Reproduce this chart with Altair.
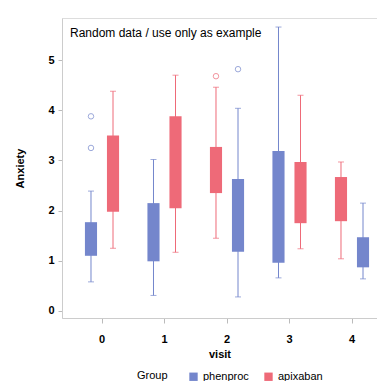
import altair as alt
import pandas as pd

visits = ["0", "0", "1", "1", "2", "2", "3", "3", "4", "4"]
groups = ["phenproc", "apixaban", "phenproc", "apixaban", "apixaban",
          "phenproc", "phenproc", "apixaban", "apixaban", "phenproc"]
sides = ["L", "R", "L", "R", "L", "R", "L", "R", "L", "R"]
lower = [0.58, 1.25, 0.31, 1.17, 1.45, 0.28, 0.66, 1.24, 1.04, 0.64]
q1 = [1.10, 1.98, 0.99, 2.05, 2.35, 1.18, 0.96, 1.75, 1.79, 0.87]
q3 = [1.77, 3.50, 2.15, 3.88, 3.27, 2.63, 3.19, 2.97, 2.67, 1.47]
upper = [2.39, 4.38, 3.02, 4.70, 4.46, 4.04, 5.66, 4.30, 2.97, 2.15]

out_visit = ["0", "0", "2", "2"]
out_group = ["phenproc", "phenproc", "apixaban", "phenproc"]
out_side = ["L", "L", "L", "R"]
out_value = [3.88, 3.25, 4.68, 4.82]

group_order = ["phenproc", "apixaban"]
colors = ["#7486cc", "#ee6a78"]

df = pd.DataFrame({"visit": visits, "Group": groups, "side": sides,
                   "lower": lower, "q1": q1, "q3": q3, "upper": upper})
dfo = pd.DataFrame({"visit": out_visit, "Group": out_group,
                    "side": out_side, "value": out_value})

xenc = alt.X("visit:N", sort=["0", "1", "2", "3", "4"], title="visit",
             scale=alt.Scale(paddingInner=0.2, paddingOuter=0.12, align=1),
             axis=alt.Axis(labelAngle=0, labelFontSize=11, labelFontWeight="bold",
                           titleFontSize=11, titleFontWeight="bold",
                           labelPadding=10, titlePadding=4, tickSize=5,
                           domainColor="#cccccc", tickColor="#bbbbbb",
                           labelColor="#000000", titleColor="#000000"))
xoff = alt.XOffset("side:N", scale=alt.Scale(domain=["L", "R"], paddingInner=0.45,
                                             paddingOuter=0.36))
yscale = alt.Scale(domain=[-0.14, 5.84], nice=False, zero=False)
yaxis = alt.Axis(values=[0, 1, 2, 3, 4, 5], grid=False, labelFontSize=11,
                 labelFontWeight="bold", titleFontSize=11, titleFontWeight="bold",
                 titlePadding=22, tickSize=4, labelPadding=4,
                 domainColor="#cccccc", tickColor="#bbbbbb",
                 labelColor="#000000", titleColor="#000000")
cscale = alt.Scale(domain=group_order, range=colors)

grp_color = alt.condition(alt.datum.Group == group_order[0],
                          alt.value(colors[0]), alt.value(colors[1]))

base = alt.Chart(df)

boxes = base.mark_bar(opacity=1).encode(
    x=xenc, xOffset=xoff,
    y=alt.Y("q1:Q", scale=yscale, axis=yaxis, title="Anxiety"), y2="q3:Q",
    color=alt.Color("Group:N", scale=cscale,
                    legend=alt.Legend(title="Group", orient="none", legendX=75,
                                      legendY=353, direction="horizontal",
                                      titleOrient="left", symbolType="square",
                                      symbolSize=70, labelFontSize=11,
                                      titleFontSize=11, titleFontWeight="normal",
                                      titlePadding=20, columnPadding=14,
                                      labelColor="#000000", titleColor="#000000")))

whisk = base.mark_rule(strokeWidth=1).encode(
    x=xenc, xOffset=xoff,
    y=alt.Y("lower:Q", scale=yscale), y2="upper:Q",
    color=grp_color)

caps_lo = base.mark_tick(size=6, thickness=1).encode(
    x=xenc, xOffset=xoff, y=alt.Y("lower:Q", scale=yscale), color=grp_color)
caps_hi = base.mark_tick(size=6, thickness=1).encode(
    x=xenc, xOffset=xoff, y=alt.Y("upper:Q", scale=yscale), color=grp_color)

outl = alt.Chart(dfo).mark_point(filled=False, size=30, strokeWidth=1).encode(
    x=xenc, xOffset=xoff, y=alt.Y("value:Q", scale=yscale), color=grp_color)

note = alt.Chart(pd.DataFrame({"t": ["Random data / use only as example"]})).mark_text(
    align="left", baseline="middle", fontSize=12, color="#000000"
).encode(x=alt.value(8), y=alt.value(15), text="t:N")

chart = alt.layer(whisk, caps_lo, caps_hi, boxes, outl, note).properties(
    width=315, height=300,
    autosize=alt.AutoSizeParams(type="none"),
    padding={"left": 54, "top": 10, "right": 0, "bottom": 63},
).configure_view(stroke="#dddddd").configure(font="Liberation Sans")

chart.save("out.html", embed_options={"renderer": "svg", "actions": False})
